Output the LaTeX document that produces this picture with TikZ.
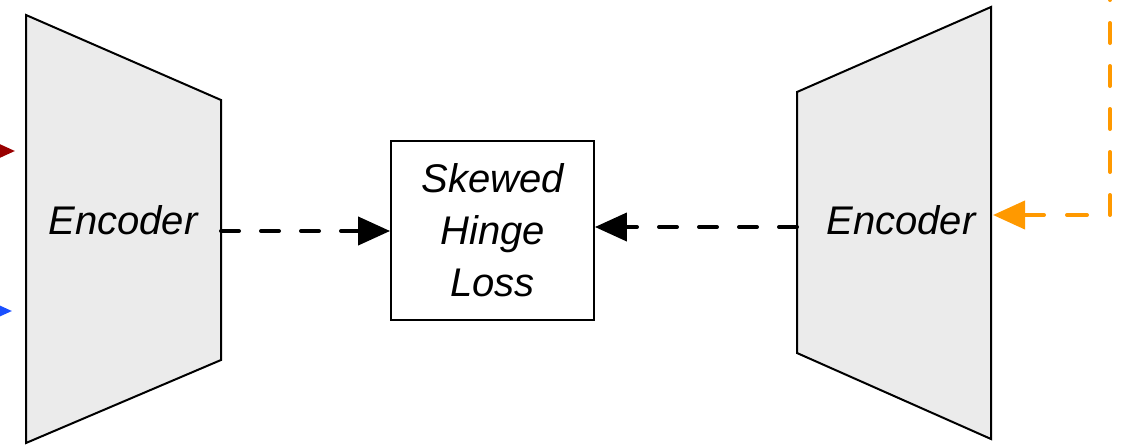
\documentclass[tikz,border=0pt]{standalone}
\usepackage{fontspec}
\setmainfont{Liberation Sans}
\usetikzlibrary{arrows.meta}
\definecolor{encfill}{HTML}{EBEBEB}
\definecolor{flowred}{HTML}{990000}
\definecolor{flowblue}{HTML}{1A4FFF}
\definecolor{floworange}{HTML}{FF9900}
\begin{document}
\begin{tikzpicture}[x=1pt,y=-1pt,
  encoder/.style={draw=black,fill=encfill,line width=2pt,line join=miter},
  label/.style={font=\fontsize{40}{52}\selectfont\itshape,inner sep=0pt},
  lossbox/.style={draw=black,line width=1.8pt,minimum width=203pt,minimum height=179pt,
    align=center,font=\fontsize{40}{52}\selectfont\itshape,inner sep=0pt},
  flow/.style={line width=4pt,line cap=round,dash pattern=on 18pt off 22pt,
    -{Triangle[length=32pt,width=28pt,line cap=butt]}},
  feed/.style={line width=4pt,-{Triangle[length=32pt,width=28pt]}}
]
\useasboundingbox (0,0) rectangle (1125,445);

% left encoder
\path[encoder] (26,15) coordinate (l1) -- (221,100) coordinate (l2)
  -- (221,360) coordinate (l3) -- (26,443) coordinate (l4) -- cycle;
\node[label] (encL) at (123,220) {Encoder};
\coordinate (lout) at (221,231);

% right encoder
\path[encoder] (797,92) coordinate (r1) -- (991,7) coordinate (r2)
  -- (991,439) coordinate (r3) -- (797,353) coordinate (r4) -- cycle;
\node[label] (encR) at (901,220) {Encoder};
\coordinate (rout) at (797,227);
\coordinate (rin) at (993,215);

% loss
\node[lossbox] (loss) at (492.5,230.5) {Skewed\\Hinge\\Loss};

% dashed flows into the loss
\draw[flow] (lout) -- (lout -| loss.west);
\draw[flow] (rout) -- (rout -| loss.east);

% inputs of the left encoder
\coordinate (redsrc) at (-60,151);
\coordinate (redtip) at (15,151);
\coordinate (bluesrc) at (-60,311);
\coordinate (bluetip) at (12,311);
\draw[feed,flowred] (redsrc) -- (redtip);
\draw[feed,flowblue] (bluesrc) -- (bluetip);

% input of the right encoder
\coordinate (orsrc) at (1110,-20);
\coordinate (orbend) at (1110,215);
\draw[floworange,line width=4pt,line cap=round,line join=round,
  dash pattern=on 20pt off 23pt,-{Triangle[length=32pt,width=28pt,line cap=butt]}]
  (orsrc) -- (orbend) -- (rin);
\end{tikzpicture}
\end{document}
